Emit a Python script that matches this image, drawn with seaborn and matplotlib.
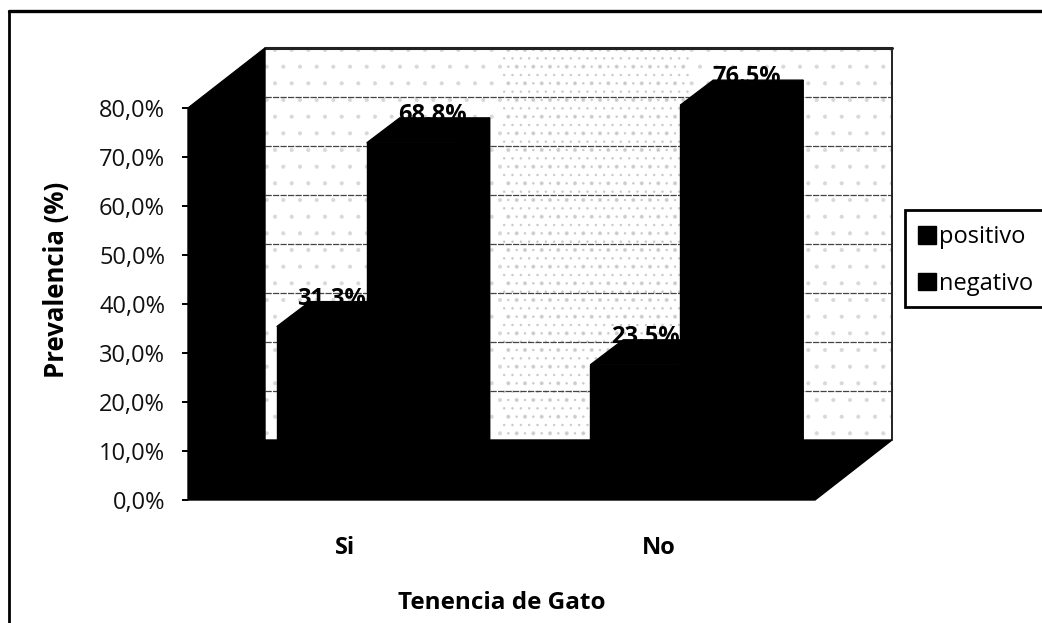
import pandas as pd
import matplotlib
matplotlib.use('Agg')
import matplotlib.pyplot as plt
from matplotlib.patches import Polygon, Rectangle
from matplotlib.lines import Line2D
import seaborn as sns

tenencia = ['Si', 'No']
resultados = ['positivo', 'negativo']
positivo = [31.3, 23.5]
negativo = [68.8, 76.5]
valores_y = [0, 10, 20, 30, 40, 50, 60, 70, 80]

W, H = 1042, 623

sns.set_theme(style='white')
plt.rcParams['font.family'] = ['Open Sans', 'DejaVu Sans']
plt.rcParams['hatch.linewidth'] = 0.5

df = pd.DataFrame({
    'tenencia': tenencia * 2,
    'resultado': [resultados[0]] * 2 + [resultados[1]] * 2,
    'prevalencia': positivo + negativo,
})


def caja(x0, y_top, x1, y_bottom):
    # pixeles de la imagen a fracciones de la figura
    return [x0 / W, 1 - y_bottom / H, (x1 - x0) / W, (y_bottom - y_top) / H]


fig = plt.figure(figsize=(W / 100, H / 100), dpi=100, facecolor='white')
ax = fig.add_axes(caja(188, 108, 815, 500))
ax_bar = fig.add_axes(caja(210, 88, 837, 480))

# escala: 313.5 px por categoria, 4.9 px por punto de porcentaje
px_x = 1 / 313.5
px_y = 1 / 4.9
x_min, x_max = -0.5, 1.5
y_max = valores_y[-1]

ax.set_xlim(x_min, x_max)
ax.set_ylim(0, y_max)
fondo_x = 77 * px_x
fondo_y = 60 * px_y

# pared del fondo con punteado del escaneo
ax.add_patch(Rectangle((x_min + fondo_x, fondo_y), x_max - x_min, y_max,
                       facecolor='white', edgecolor='none', clip_on=False, zorder=1))
ax.add_patch(Rectangle((x_min + fondo_x, fondo_y), x_max - x_min, y_max,
                       fill=False, hatch='.', edgecolor='#d8d8d8', lw=0, clip_on=False, zorder=1.1))
ax.add_patch(Rectangle((0.5, fondo_y), 0.6, y_max,
                       fill=False, hatch='..', edgecolor='#c8c8c8', lw=0, clip_on=False, zorder=1.2))
for v in valores_y[1:]:
    ancho = 2.2 if v == y_max else 0.9
    estilo = '-' if v == y_max else (0, (5, 1))
    ax.plot([x_min + fondo_x, x_max + fondo_x], [v + fondo_y, v + fondo_y],
            color='#222222' if v == y_max else '#444444', lw=ancho, ls=estilo, clip_on=False, zorder=1.5)
ax.plot([x_max + fondo_x, x_max + fondo_x], [fondo_y, y_max + fondo_y],
        color='#222222', lw=1.4, clip_on=False, zorder=1.5)

# pared izquierda y suelo
ax.add_patch(Polygon([(x_min, 0), (x_min, y_max), (x_min + fondo_x, y_max + fondo_y), (x_min + fondo_x, fondo_y)],
                     facecolor='black', edgecolor='black', clip_on=False, zorder=2))
ax.add_patch(Polygon([(x_min, 0), (x_min + fondo_x, fondo_y), (x_max + fondo_x, fondo_y), (x_max, 0)],
                     facecolor='black', edgecolor='black', clip_on=False, zorder=2))

ax.set_yticks(valores_y)
ax.set_yticklabels([f'{v:.1f}%'.replace('.', ',') for v in valores_y], fontsize=17, color='#111111')
ax.set_xticks(range(len(tenencia)))
ax.set_xticklabels(tenencia, fontsize=17, fontweight='bold', color='black')
ax.tick_params(axis='y', left=True, length=4.5, width=1.4, color='black', pad=12)
ax.tick_params(axis='x', bottom=False, length=0, pad=26)
for s in ax.spines.values():
    s.set_visible(False)
ax.set_xlabel('Tenencia de Gato', fontsize=17.5, fontweight='bold', color='black', va='center')
ax.xaxis.set_label_coords(0.5, -103 / 392)
ax.set_ylabel('Prevalencia (%)', fontsize=18.5, fontweight='bold', color='black', va='center')
ax.yaxis.set_label_coords(-131 / 627, 220 / 392)

# barras
sns.barplot(data=df, x='tenencia', y='prevalencia', hue='resultado', order=tenencia, hue_order=resultados,
            palette=['black', 'black'], saturation=1, width=0.574, gap=0, ax=ax_bar,
            edgecolor='black', linewidth=1)
ax_bar.set_xlim(x_min, x_max)
ax_bar.set_ylim(0, y_max)
ax_bar.patch.set_visible(False)
handles, labels = ax_bar.get_legend_handles_labels()
ax_bar.get_legend().remove()
ax_bar.set_axis_off()

prof_x = 33 * px_x
prof_y = 25 * px_y
desfase = [10 * px_x, 21 * px_x]
for cont, d in zip(ax_bar.containers, desfase):
    for b in cont:
        x0, w, h = b.get_x(), b.get_width(), b.get_height()
        ax_bar.add_patch(Polygon([(x0, h), (x0 + prof_x, h + prof_y), (x0 + w + prof_x, h + prof_y), (x0 + w, h)],
                                 facecolor='black', edgecolor='black', clip_on=False))
        ax_bar.add_patch(Polygon([(x0 + w, 0), (x0 + w + prof_x, prof_y), (x0 + w + prof_x, h + prof_y), (x0 + w, h)],
                                 facecolor='black', edgecolor='black', clip_on=False))
        ax_bar.text(x0 + w / 2 + d, h + prof_y - 3 * px_y, f'{h:.1f}%', ha='center', va='baseline',
                    fontsize=17, fontweight='bold', color='black', clip_on=False, zorder=0.5)

# marco abierto y leyenda
fig.add_artist(Line2D([9 / W, 9 / W], [0, 1 - 11 / H], color='black', lw=2))
fig.add_artist(Line2D([9 / W, 1], [1 - 11 / H, 1 - 11 / H], color='black', lw=2.4))
fig.add_artist(Rectangle((905 / W, 1 - 307 / H), 160 / W, 97 / H, transform=fig.transFigure,
                         facecolor='white', edgecolor='black', lw=2))
fig.legend(handles, labels, loc='upper left', bbox_to_anchor=(911 / W, 1 - 218 / H), frameon=False,
           fontsize=17, labelcolor='black', handlelength=0.76, handleheight=0.76, handletextpad=0.12,
           labelspacing=0.95, borderpad=0.3, borderaxespad=0)

fig.savefig('out.png', dpi=100, facecolor='white')
